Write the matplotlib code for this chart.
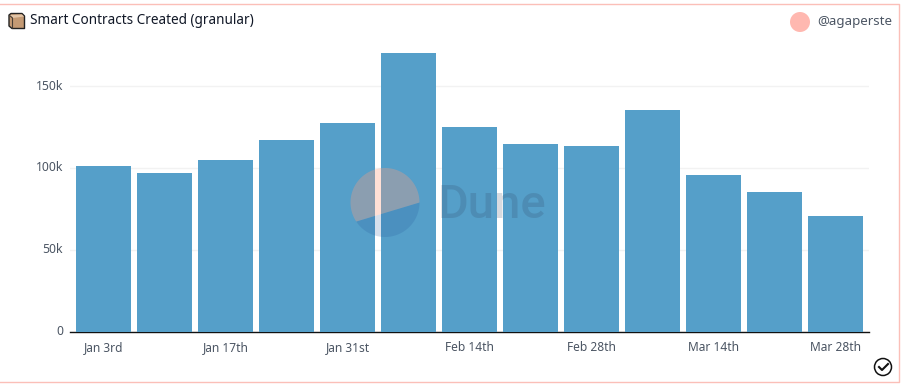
import numpy as np
import matplotlib
matplotlib.use("Agg")
import matplotlib.pyplot as plt
from matplotlib.patches import Circle, Polygon, Rectangle

categories = ["Jan 3rd", "Jan 10th", "Jan 17th", "Jan 24th", "Jan 31st", "Feb 7th", "Feb 14th",
              "Feb 21st", "Feb 28th", "Mar 7th", "Mar 14th", "Mar 21st", "Mar 28th"]
values = [101000, 96700, 104700, 117000, 127400, 170300, 125000, 114500, 113300, 135300, 95500, 85000, 70400]
y_ticks = [0, 50000, 100000, 150000]
y_labels = ["0", "50k", "100k", "150k"]
x_tick_labels = ["Jan 3rd", "Jan 17th", "Jan 31st", "Feb 14th", "Feb 28th", "Mar 14th", "Mar 28th"]
title = "Smart Contracts Created (granular)"
author = "@agaperste"

W, H = 901, 385
FONT = "Noto Sans"
TXT = "#4b5563"
fig = plt.figure(figsize=(W / 100, H / 100), dpi=100, facecolor="white")

L, R, B, T = 70, 869, 331.5, 37
ax = fig.add_axes([L / W, 1 - B / H, (R - L) / W, (B - T) / H])
pos = np.arange(len(categories))
ax.bar(pos, values, width=55 / 61, color="#559fc9", zorder=3)
ax.set_xlim(-33.5 / 61, 12 + 33.5 / 61)
ax.set_ylim(0, 180000)
for s in ["top", "left", "right"]:
    ax.spines[s].set_visible(False)
ax.spines["bottom"].set_color("#111111")
ax.spines["bottom"].set_linewidth(1.0)
ax.spines["bottom"].set_zorder(2)
ax.set_yticks(y_ticks, y_labels, family=FONT, fontsize=8.8, color=TXT)
ax.set_xticks([categories.index(c) for c in x_tick_labels], x_tick_labels, family=FONT, fontsize=8.6, color=TXT)
ax.tick_params(axis="both", length=0)
ax.tick_params(axis="x", pad=7)
ax.tick_params(axis="y", pad=5)
for lab in ax.get_yticklabels():
    lab.set_y(lab.get_position()[1])
    lab.set_verticalalignment("center")
ax.grid(axis="y", color="#f2f2f2", linewidth=1, zorder=0)
ax.set_axisbelow(True)

# overlay in pixel coordinates
ov = fig.add_axes([0, 0, 1, 1], facecolor="none")
ov.set_xlim(0, W)
ov.set_ylim(H, 0)
ov.axis("off")

# card border
ov.plot([0, 899, 899, 0], [3.5, 3.5, 382, 382], color="#fbbfb8", lw=1.0, zorder=1)

# watermark
cx, cy, r = 385, 202.5, 34.5
a = np.radians(np.linspace(0, 146.5, 80))
ov.add_patch(Polygon(np.c_[cx + r * np.cos(a), cy + r * np.sin(a)], fc="#1e4f96", alpha=0.18, ec="none", zorder=5))
a = np.radians(np.linspace(146.5, 360, 120))
ov.add_patch(Polygon(np.c_[cx + r * np.cos(a), cy + r * np.sin(a)], fc="#ff9e7e", alpha=0.32, ec="none", zorder=5))
ov.text(438, 204.5, "Dune", family="Roboto", fontsize=34, color="#2b3a55", alpha=0.18,
        ha="left", va="center", fontweight="medium", zorder=5)

# title with box icon
ov.add_patch(Polygon([[9, 15], [11, 13.5], [22, 13.5], [24.5, 16], [24.5, 28.5], [12, 28.5], [9, 26]],
                     fc="#c49a74", ec="#222222", lw=1.0, joinstyle="round", zorder=6))
ov.add_patch(Polygon([[10, 15], [22, 14.5], [24, 16.5], [13, 18]], fc="#e2c4a6", ec="none", zorder=7))
ov.plot([9.5, 12.5, 12.5], [15.5, 18, 28], color="#4a3f36", lw=0.8, zorder=7)
ov.text(29.5, 21, title, family=FONT, fontsize=9.75, color="#111827", ha="left", va="center", zorder=6)

# author
ov.add_patch(Circle((800, 22), 10, fc="#ffb8b0", ec="none", zorder=6))
ov.text(817, 21.5, author, family=FONT, fontsize=9.55, color=TXT, ha="left", va="center", zorder=6)

# check badge
ov.add_patch(Circle((883, 367), 8.5, fc="white", ec="#111111", lw=1.1, zorder=6))
ov.plot([879, 882, 888], [367, 370, 364], color="#111111", lw=1.5, zorder=7)

fig.savefig("out.png", dpi=100, facecolor="white")
